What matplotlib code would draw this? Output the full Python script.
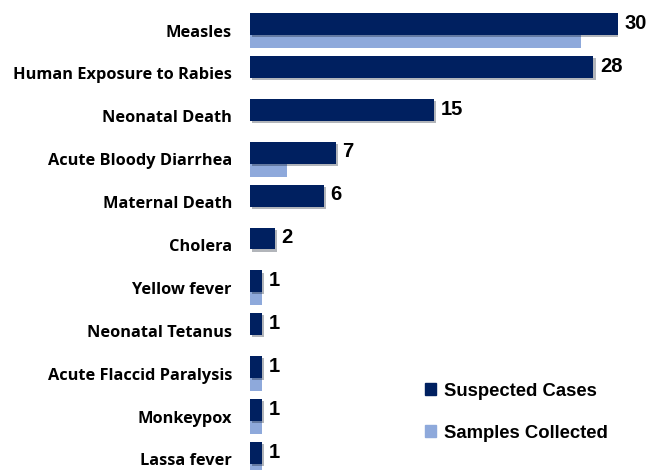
import matplotlib
matplotlib.use("Agg")
import matplotlib.pyplot as plt
import matplotlib.patheffects as pe
from matplotlib.patches import Patch
import numpy as np

categories = ["Measles", "Human Exposure to Rabies", "Neonatal Death", "Acute Bloody Diarrhea",
              "Maternal Death", "Cholera", "Yellow fever", "Neonatal Tetanus",
              "Acute Flaccid Paralysis", "Monkeypox", "Lassa fever"]
suspected = [30, 28, 15, 7, 6, 2, 1, 1, 1, 1, 1]
samples = [27, 0, 0, 3, 0, 0, 1, 0, 1, 1, 1]

dark = "#002060"
light = "#8EA9DB"

fig = plt.figure(figsize=(6.5, 4.7), dpi=100)
ax = fig.add_axes([250/650, 0, (618-250)/650, 1])

y = np.arange(len(categories))
shadow = [pe.SimplePatchShadow(offset=(1.5, -1.5), alpha=0.3), pe.Normal()]
ax.barh(y + 0.105, samples, height=0.302, align="edge", color=light, zorder=2)
bars = ax.barh(y - 0.407, suspected, height=0.512, align="edge", color=dark, zorder=3)
for b in bars:
    b.set_path_effects(shadow)

for yi, v in zip(y, suspected):
    ax.text(v + 0.55, yi - 0.17, str(v), va="center", ha="left", fontsize=14.5,
            fontweight="bold", family="Liberation Sans", clip_on=False)

ax.set_xlim(0, 30)
ax.set_ylim(10.245, -0.711)
ax.set_yticks(y)
ax.set_yticklabels(categories, fontsize=11.8, fontweight="bold", family="Open Sans")
ax.tick_params(axis="y", length=0, pad=13)
ax.set_xticks([])
for s in ax.spines.values():
    s.set_visible(False)

handles = [Patch(color=dark, label="Suspected Cases"), Patch(color=light, label="Samples Collected")]
leg = fig.legend(handles=handles, loc="upper left", bbox_to_anchor=(408/650, 1 - 366/470),
                 frameon=False, handlelength=0.6, handleheight=0.6, handletextpad=0.45,
                 labelspacing=1.35, prop={"family": "Liberation Sans", "weight": "bold", "size": 13.3})

fig.savefig("out.png", dpi=100)
